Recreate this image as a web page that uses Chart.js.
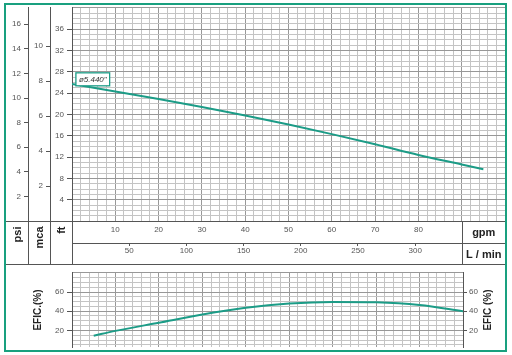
<!DOCTYPE html>
<html>
<head>
<meta charset="utf-8">
<script src="https://cdn.jsdelivr.net/npm/chart.js@4"></script>
<style>
  html, body { margin: 0; padding: 0; background: #fff; }
  #wrap { position: relative; width: 512px; height: 355px; overflow: hidden; }
  canvas { position: absolute; left: 0; }
  #top { top: 0; }
  #eff { top: 265px; }
  #frame { position: absolute; left: 4px; top: 3px; width: 503px; height: 349px;
           border: 2px solid #19a07f; box-sizing: border-box; pointer-events: none; }
</style>
</head>
<body>
<div id="wrap">
  <canvas id="top" width="512" height="265"></canvas>
  <canvas id="eff" width="512" height="90"></canvas>
  <div id="frame"></div>
</div>
<script>
// head curve (gpm -> ft)
const flowHead = [0, 10, 20, 30, 40, 50, 60, 70, 80, 90, 95];
const headFt = [25.7, 24.3, 22.9, 21.4, 19.8, 18.1, 16.3, 14.4, 12.4, 10.6, 9.7];

// efficiency curve (gpm -> %)
const flowEff = [5, 10, 20, 30, 40, 50, 60, 70, 80, 90];
const effPct = [14.5, 19.5, 28, 36.5, 43.5, 48, 49.7, 49.3, 46.5, 40];

// tick labels
const psiTicks = [2, 4, 6, 8, 10, 12, 14, 16];
const mcaTicks = [2, 4, 6, 8, 10];
const ftTicks = [4, 8, 12, 16, 20, 24, 28, 32, 36];
const gpmTicks = [10, 20, 30, 40, 50, 60, 70, 80];
const lminTicks = [50, 100, 150, 200, 250, 300];
const effTicks = [20, 40, 60];
const curveLabel = 'ø5.440"';

const TEAL = '#1c9c87';
const MINOR = '#c4c4c4';
const MAJOR = '#989898';
const AXIS = '#555';
const FONT = "'Liberation Sans', Arial, sans-serif";

Chart.defaults.font.family = FONT;
Chart.defaults.font.size = 8;
Chart.defaults.color = '#555';

// unit ranges
const FT_MAX = 40, GPM_MAX = 100;
const PSI_MAX = FT_MAX * 0.4335;
const MCA_MAX = FT_MAX / 3.2808;
const LMIN_MAX = GPM_MAX * 3.7854;

const steps = (a, b, s) => {
  const out = [];
  for (let i = 0; a + i * s <= b + 1e-9; i++) out.push({ value: a + i * s });
  return out;
};
const fixW = w => s => { s.width = w; };
const fixH = h => s => { s.height = h; };
const px = v => Math.round(v) + 0.5;

const topTable = {
  id: 'topTable',
  afterDraw(chart) {
    const { ctx, chartArea: ca, scales: s } = chart;
    const yb = Math.round(s.xl.bottom) - 0.5;
    const y0 = px(ca.bottom);
    ctx.save();
    ctx.strokeStyle = AXIS;
    ctx.lineWidth = 1;
    const seg = (x1, y1, x2, y2) => { ctx.beginPath(); ctx.moveTo(x1, y1); ctx.lineTo(x2, y2); ctx.stroke(); };
    seg(6, y0, 505, y0);
    seg(6, yb, 505, yb);
    [s.psi.right, s.mca.right, ca.left].forEach(x => seg(px(x), y0, px(x), yb));
    const x90 = px(s.x.getPixelForValue(90));
    seg(x90, y0, x90, yb);

    // row captions
    ctx.fillStyle = '#222';
    ctx.font = 'bold 11px ' + FONT;
    ctx.textBaseline = 'middle';
    const cols = [['psi', s.psi], ['mca', s.mca], ['ft', s.ft]];
    cols.forEach(([t, sc]) => {
      ctx.save();
      ctx.translate((sc.left + sc.right) / 2 + 1, ca.bottom + 5.5);
      ctx.rotate(-Math.PI / 2);
      ctx.textAlign = 'right';
      ctx.fillText(t, 0, 0);
      ctx.restore();
    });
    ctx.textAlign = 'center';
    const cx = (x90 + 505) / 2;
    ctx.fillText('gpm', cx, (ca.bottom + s.xl.top) / 2 + 0.5);
    ctx.fillText('L / min', cx, (s.xl.top + s.xl.bottom) / 2 + 0.5);

    // impeller label
    ctx.font = 'italic 8px ' + FONT;
    const bx = s.x.getPixelForValue(0.9), by = s.ft.getPixelForValue(27.8);
    const w = ctx.measureText(curveLabel).width + 6, h = 13;
    ctx.fillStyle = '#fff';
    ctx.fillRect(bx, by, w, h);
    ctx.strokeStyle = TEAL;
    ctx.lineWidth = 1.3;
    ctx.strokeRect(bx, by, w, h);
    ctx.fillStyle = '#333';
    ctx.textAlign = 'left';
    ctx.fillText(curveLabel, bx + 3, by + h / 2 + 0.5);
    ctx.restore();
  }
};

const sideAxis = (pos, weight, max, ticks, width) => ({
  type: 'linear', position: pos, weight, min: 0, max,
  afterBuildTicks: s => { s.ticks = ticks.map(v => ({ value: v })); },
  afterFit: fixW(width),
  grid: { drawOnChartArea: false, tickLength: 4, tickColor: AXIS },
  border: { color: AXIS },
  ticks: { padding: 3, autoSkip: false }
});

new Chart(document.getElementById('top'), {
  type: 'line',
  data: {
    datasets: [{
      data: flowHead.map((x, i) => ({ x, y: headFt[i] })),
      borderColor: TEAL, borderWidth: 2, pointRadius: 0,
      cubicInterpolationMode: 'monotone', xAxisID: 'x', yAxisID: 'ft'
    }]
  },
  options: {
    responsive: false, animation: false, devicePixelRatio: 1,
    layout: { padding: { left: 6, right: 7, top: 5, bottom: 0 } },
    plugins: { legend: { display: false }, tooltip: { enabled: false } },
    scales: {
      x: {
        type: 'linear', position: 'bottom', weight: 0, min: 0, max: GPM_MAX,
        afterBuildTicks: s => { s.ticks = steps(0, GPM_MAX, 2); },
        afterFit: fixH(22),
        grid: { color: c => (c.tick && c.tick.value % 10 === 0) ? MAJOR : MINOR, drawTicks: false },
        border: { display: false },
        ticks: { autoSkip: false, maxRotation: 0, padding: 4,
                 callback: v => gpmTicks.includes(v) ? v : '' }
      },
      xl: {
        type: 'linear', position: 'bottom', weight: 1, min: 0, max: LMIN_MAX,
        afterBuildTicks: s => { s.ticks = lminTicks.map(v => ({ value: v })); },
        afterFit: fixH(22),
        grid: { drawOnChartArea: false, tickLength: 3, tickColor: AXIS },
        border: { color: AXIS },
        ticks: { autoSkip: false, maxRotation: 0, padding: 0 }
      },
      ft: {
        type: 'linear', position: 'left', weight: 0, min: 0, max: FT_MAX,
        afterBuildTicks: s => { s.ticks = steps(0, FT_MAX, 1); },
        afterFit: fixW(22),
        grid: {
          color: c => (c.tick && c.tick.value % 4 === 0) ? MAJOR : MINOR,
          tickLength: 5,
          tickColor: c => (c.tick && ftTicks.includes(c.tick.value)) ? AXIS : 'rgba(0,0,0,0)'
        },
        border: { color: AXIS },
        ticks: { autoSkip: false, padding: 3, callback: v => ftTicks.includes(v) ? v : '' }
      },
      mca: sideAxis('left', 1, MCA_MAX, mcaTicks, 22),
      psi: sideAxis('left', 2, PSI_MAX, psiTicks, 22)
    }
  },
  plugins: [topTable]
});

const effTitles = {
  id: 'effTitles',
  afterDraw(chart) {
    const { ctx, chartArea: ca } = chart;
    const my = (ca.top + ca.bottom) / 2;
    ctx.save();
    ctx.fillStyle = '#222';
    ctx.font = 'bold 10px ' + FONT;
    ctx.textAlign = 'center';
    ctx.textBaseline = 'middle';
    [[38, 'EFIC.(%)'], [488, 'EFIC (%)']].forEach(([x, t]) => {
      ctx.save();
      ctx.translate(x, my);
      ctx.rotate(-Math.PI / 2);
      ctx.fillText(t, 0, 0);
      ctx.restore();
    });
    ctx.restore();
  }
};

new Chart(document.getElementById('eff'), {
  type: 'line',
  data: {
    datasets: [{
      data: flowEff.map((x, i) => ({ x, y: effPct[i] })),
      borderColor: TEAL, borderWidth: 2, pointRadius: 0,
      cubicInterpolationMode: 'monotone', xAxisID: 'x', yAxisID: 'y'
    }]
  },
  options: {
    responsive: false, animation: false, devicePixelRatio: 1,
    layout: { padding: { left: 6, right: 7, top: 0, bottom: 5 } },
    plugins: { legend: { display: false }, tooltip: { enabled: false } },
    scales: {
      x: {
        type: 'linear', min: 0, max: 90,
        afterBuildTicks: s => { s.ticks = steps(0, 90, 2); },
        afterFit: fixH(0),
        grid: { color: c => (c.tick && c.tick.value % 10 === 0) ? MAJOR : MINOR, drawTicks: false },
        border: { display: false },
        ticks: { display: false }
      },
      y: {
        type: 'linear', position: 'left', min: 2.5, max: 80,
        afterBuildTicks: s => { s.ticks = steps(5, 80, 5); },
        afterFit: fixW(66),
        grid: {
          color: c => (c.tick && c.tick.value % 20 === 0) ? MAJOR : MINOR,
          tickLength: 5,
          tickColor: c => (c.tick && effTicks.includes(c.tick.value)) ? AXIS : 'rgba(0,0,0,0)'
        },
        border: { color: AXIS },
        ticks: { autoSkip: false, padding: 3, callback: v => effTicks.includes(v) ? v : '' }
      },
      y2: {
        type: 'linear', position: 'right', min: 2.5, max: 80,
        afterBuildTicks: s => { s.ticks = effTicks.map(v => ({ value: v })); },
        afterFit: fixW(42),
        grid: { drawOnChartArea: false, tickLength: 4, tickColor: AXIS },
        border: { color: AXIS },
        ticks: { autoSkip: false, padding: 2 }
      }
    }
  },
  plugins: [effTitles]
});
</script>
</body>
</html>
